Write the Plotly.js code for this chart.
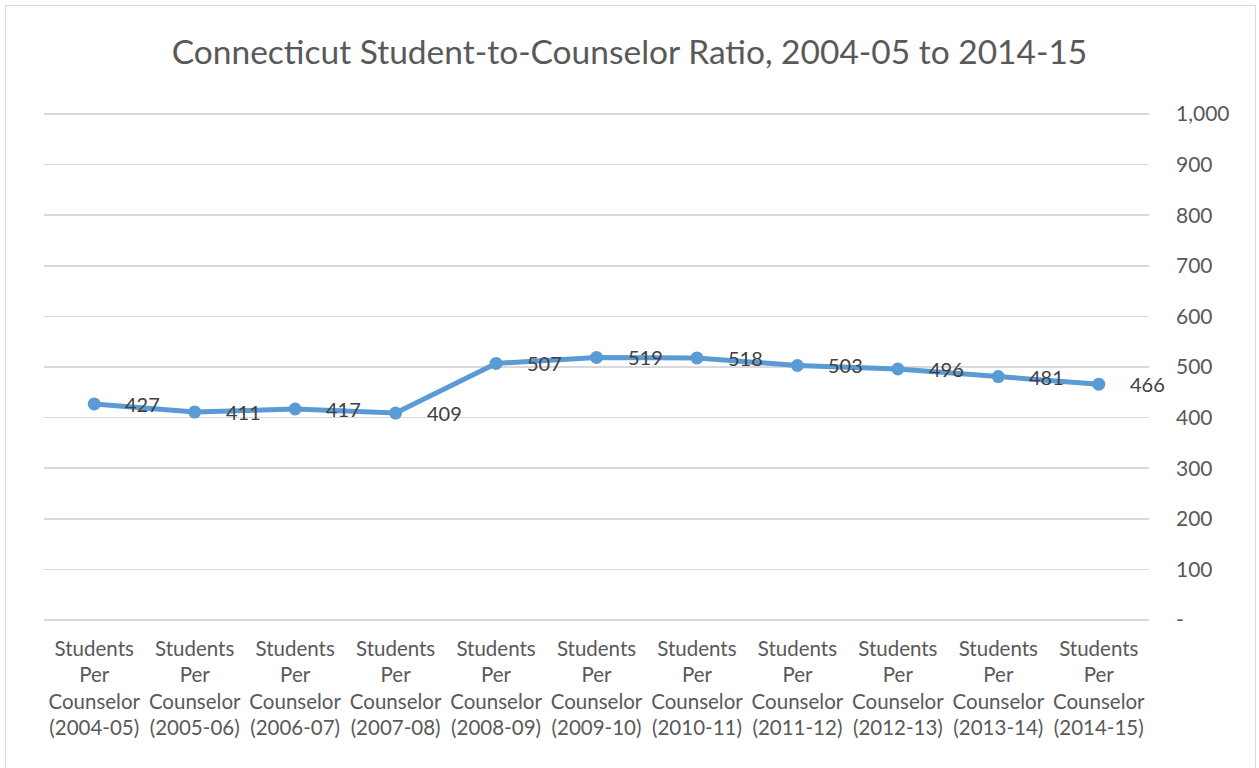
<!DOCTYPE html>
<html><head><meta charset="utf-8">
<script src="https://cdn.plot.ly/plotly-3.0.1.min.js"></script>
<style>
body{margin:0;padding:0;background:#fff;}
#chart{width:1259px;height:768px;position:absolute;left:0;top:0;}
#frame{position:absolute;left:5px;top:5px;width:1249px;height:790px;border:1px solid #d9d9d9;pointer-events:none;}
</style></head>
<body>
<div id="chart"></div>
<div id="frame"></div>
<script>
const categories = ["2004-05","2005-06","2006-07","2007-08","2008-09","2009-10","2010-11","2011-12","2012-13","2013-14","2014-15"];
const ratios = [427, 411, 417, 409, 507, 519, 518, 503, 496, 481, 466];
const yTickVals = [0,100,200,300,400,500,600,700,800,900,1000];
const yTickText = ["-","100","200","300","400","500","600","700","800","900","1,000"];

const FONT = "Lato, 'Open Sans', sans-serif";
const xLabels = categories.map(c => "Students<br>Per<br>Counselor<br>(" + c + ")");

const trace = {
  x: xLabels,
  y: ratios,
  type: "scatter",
  mode: "lines+markers",
  line: {color: "#5B9BD5", width: 5},
  marker: {color: "#5B9BD5", size: 13},
  cliponaxis: false,
  hoverinfo: "none"
};

const annotations = ratios.map((v, i) => ({
  x: xLabels[i], y: v, xref: "x", yref: "y",
  text: String(v), showarrow: false,
  xanchor: "left", yanchor: "middle",
  xshift: 29, yshift: 0,
  font: {family: FONT, size: 20, color: "#404040"}
}));

const layout = {
  width: 1259, height: 768,
  margin: {l: 44, r: 110, t: 113, b: 147},
  paper_bgcolor: "#ffffff",
  plot_bgcolor: "#ffffff",
  showlegend: false,
  font: {family: FONT, color: "#595959"},
  annotations: annotations,
  title: {
    text: "Connecticut Student-to-Counselor Ratio, 2004-05 to 2014-15",
    font: {family: FONT, size: 33.5, color: "#595959"},
    x: 0.5, xanchor: "center", y: 0.932, yanchor: "middle"
  },
  xaxis: {
    type: "category",
    range: [-0.5, 10.5],
    showgrid: false,
    zeroline: false,
    showline: false,
    ticks: "",
    tickangle: 0,
    ticklabelstandoff: 13,
    tickfont: {family: FONT, size: 20.5, color: "#595959"},
    automargin: false
  },
  yaxis: {
    side: "right",
    range: [-2, 1002],
    tickvals: yTickVals,
    ticktext: yTickText,
    showgrid: true,
    gridcolor: "#d9d9d9",
    gridwidth: 1.5,
    zeroline: false,
    showline: false,
    ticks: "",
    ticklabelstandoff: 26,
    tickfont: {family: FONT, size: 21, color: "#595959"},
    automargin: false
  }
};

Plotly.newPlot("chart", [trace], layout, {displayModeBar: false, staticPlot: true});
</script>
</body></html>
